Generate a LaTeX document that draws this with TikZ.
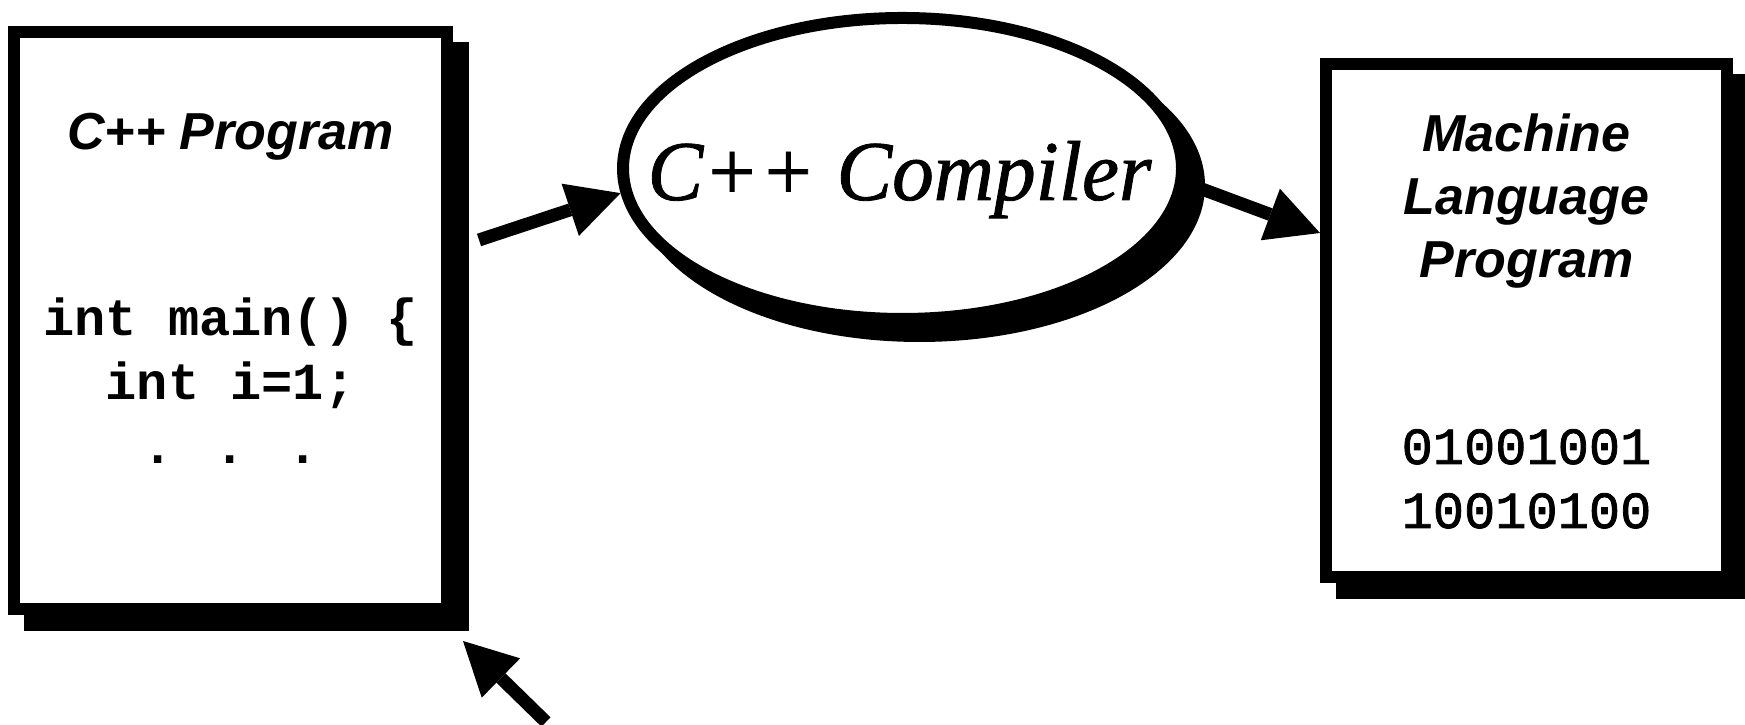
\documentclass[tikz,border=0pt]{standalone}
\usepackage{fontspec}
\setmainfont{Liberation Serif}
\newfontfamily\headfont{Liberation Sans}
\newfontfamily\codefont{Liberation Mono}
\newfontface\bitsfont{Liberation Mono}[FakeBold=1.5]
\newfontface\compfont{Liberation Serif Italic}[FakeBold=1]
\usetikzlibrary{arrows.meta,shapes.geometric,backgrounds}

\begin{document}
\begin{tikzpicture}[x=0.1mm,y=0.1mm,
  box/.style={draw,line width=1.2mm,fill=white,inner sep=0pt},
  flow/.style={line width=1.3mm,-{Triangle[length=5.3mm,width=5.5mm,line width=0pt]}},
  title/.style={font=\headfont\bfseries\itshape\fontsize{14.8}{17}\selectfont,inner sep=0pt,anchor=base},
  code/.style={font=\codefont\bfseries\fontsize{14.8}{17}\selectfont,inner sep=0pt,anchor=base},
  bits/.style={font=\bitsfont\fontsize{14.8}{17}\selectfont,inner sep=0pt,anchor=base}]
\useasboundingbox (0,0) rectangle (1745,725);

% source file, compiler and machine code
\node[box,minimum width=43.3mm,minimum height=57.7mm] (src) at (230.5,404.5) {};
\node[box,ellipse,minimum width=55.9mm,minimum height=30.1mm] (comp) at (902.5,556.5) {};
\node[box,minimum width=40.1mm,minimum height=51.3mm] (mach) at (1526.5,404.5) {};

% solid black shadows behind them
\begin{scope}[on background layer]
\foreach \n in {src,mach}
\fill ([shift={(16,-16)}]\n.north west) rectangle ([shift={(16,-16)}]\n.south east);
\fill ([shift={(17,-17)}]comp.center) ellipse [x radius=285.5,y radius=156.5];
\end{scope}

\node[title] (srctitle) at (230.5,575) {C++ Program};
\foreach \txt/\yy [count=\i] in {int main() \{/389,int i=1;/325,. . ./261}
\node[code] (line\i) at (230.5,\yy) {\txt};

\node[font=\compfont\fontsize{24.2}{29}\selectfont,inner sep=0pt,anchor=base,xscale=0.98] (comptext) at (899.5,525) {C++ Compiler};

\foreach \txt/\yy [count=\i] in {Machine/573,Language/510,Program/447}
\node[title] (head\i) at (1526.5,\yy) {\txt};
\foreach \txt/\yy [count=\i] in {01001001/261,10010100/197}
\node[bits] (word\i) at (1526.5,\yy) {\txt};

% the arrows
\draw[flow] ([shift={(26,80.5)}]src.east) -- (comp.185);
\draw[flow] (comp.-3) -- ([shift={(0,87.5)}]mach.west);
\draw[flow] ([shift={(93,-107)}]src.south east) -- ([shift={(10,-26)}]src.south east);

\end{tikzpicture}
\end{document}
